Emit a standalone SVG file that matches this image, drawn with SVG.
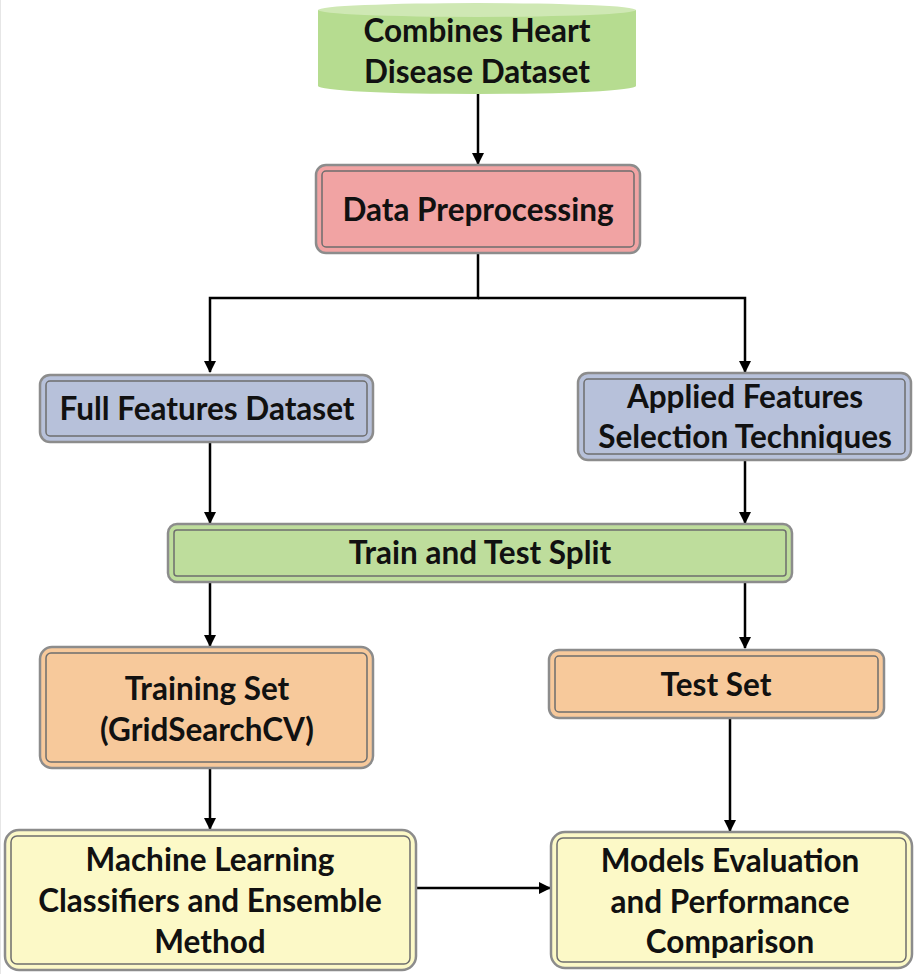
<svg xmlns="http://www.w3.org/2000/svg" width="914" height="974" viewBox="0 0 914 974">
<defs>
<marker id="ah" viewBox="0 0 12 12" refX="11" refY="6" markerWidth="12" markerHeight="13" markerUnits="userSpaceOnUse" orient="auto">
<path d="M0,0 L12,6 L0,12 z" fill="#000"/>
</marker>
<style>
text{font-family:Lato,"Open Sans","Liberation Sans",sans-serif;font-weight:bold;font-size:31.5px;fill:#111;text-anchor:middle}
.outer{stroke:#8c8c8c;stroke-width:2.5}
.inner{fill:none;stroke:#6e6e6e;stroke-width:1.5}
.conn{stroke:#000;stroke-width:2.5;fill:none}
</style>
</defs>
<rect width="914" height="974" fill="#fff"/>
<line x1="0.5" y1="0" x2="0.5" y2="974" stroke="#e6e6e6" stroke-width="1"/>

<g id="connectors">
<line class="conn" x1="478" y1="93" x2="478" y2="164" marker-end="url(#ah)"/>
<polyline class="conn" points="478,253 478,298 210,298 210,372" marker-end="url(#ah)"/>
<polyline class="conn" points="478,298 745,298 745,372" marker-end="url(#ah)"/>
<line class="conn" x1="210" y1="443" x2="210" y2="523" marker-end="url(#ah)"/>
<line class="conn" x1="745" y1="460" x2="745" y2="523" marker-end="url(#ah)"/>
<line class="conn" x1="210" y1="583" x2="210" y2="646" marker-end="url(#ah)"/>
<line class="conn" x1="745" y1="583" x2="745" y2="648" marker-end="url(#ah)"/>
<line class="conn" x1="210" y1="768" x2="210" y2="829" marker-end="url(#ah)"/>
<line class="conn" x1="730" y1="718" x2="730" y2="831" marker-end="url(#ah)"/>
<line class="conn" x1="416" y1="888" x2="550" y2="888" marker-end="url(#ah)"/>
</g>

<g id="dataset">
<path d="M318,10 L318,86 A159,8 0 0 0 636,86 L636,10 Z" fill="#b6dc90"/>
<ellipse cx="477" cy="10" rx="159" ry="7" fill="#cfe8b4"/>
<text x="477" y="42">Combines Heart</text>
<text x="477" y="83">Disease Dataset</text>
</g>

<g id="preprocessing">
<rect class="outer" x="316" y="165" width="324" height="88" rx="10" fill="#f1a3a3"/>
<rect class="inner" x="322" y="171" width="312" height="76" rx="4"/>
<text x="478" y="221">Data Preprocessing</text>
</g>

<g id="full-features">
<rect class="outer" x="40" y="375" width="333" height="67" rx="10" fill="#b7c1da"/>
<rect class="inner" x="46" y="381" width="321" height="55" rx="4"/>
<text x="207" y="420">Full Features Dataset</text>
</g>

<g id="applied-features">
<rect class="outer" x="578" y="373" width="333" height="87" rx="10" fill="#b7c1da"/>
<rect class="inner" x="584" y="379" width="321" height="75" rx="4"/>
<text x="745" y="408">Applied Features</text>
<text x="745" y="448">Selection Techniques</text>
</g>

<g id="split">
<rect class="outer" x="168" y="524" width="624" height="58" rx="9" fill="#bedd9c"/>
<rect class="inner" x="174" y="530" width="612" height="46" rx="3"/>
<text x="480" y="564">Train and Test Split</text>
</g>

<g id="training-set">
<rect class="outer" x="40" y="647" width="333" height="121" rx="12" fill="#f7c99b"/>
<rect class="inner" x="46" y="653" width="321" height="109" rx="5"/>
<text x="207" y="700">Training Set</text>
<text x="207" y="741">(GridSearchCV)</text>
</g>

<g id="test-set">
<rect class="outer" x="549" y="650" width="335" height="68" rx="10" fill="#f7c99b"/>
<rect class="inner" x="555" y="656" width="323" height="56" rx="4"/>
<text x="716" y="696">Test Set</text>
</g>

<g id="ml-classifiers">
<rect class="outer" x="5" y="830" width="411" height="140" rx="14" fill="#fcf9c7"/>
<rect class="inner" x="11" y="836" width="399" height="128" rx="6"/>
<text x="210" y="871">Machine Learning</text>
<text x="210" y="912">Classifiers and Ensemble</text>
<text x="210" y="953">Method</text>
</g>

<g id="evaluation">
<rect class="outer" x="551" y="832" width="361" height="136" rx="14" fill="#fcf9c7"/>
<rect class="inner" x="557" y="838" width="349" height="124" rx="6"/>
<text x="730" y="872">Models Evaluation</text>
<text x="730" y="913">and Performance</text>
<text x="730" y="953">Comparison</text>
</g>
</svg>
